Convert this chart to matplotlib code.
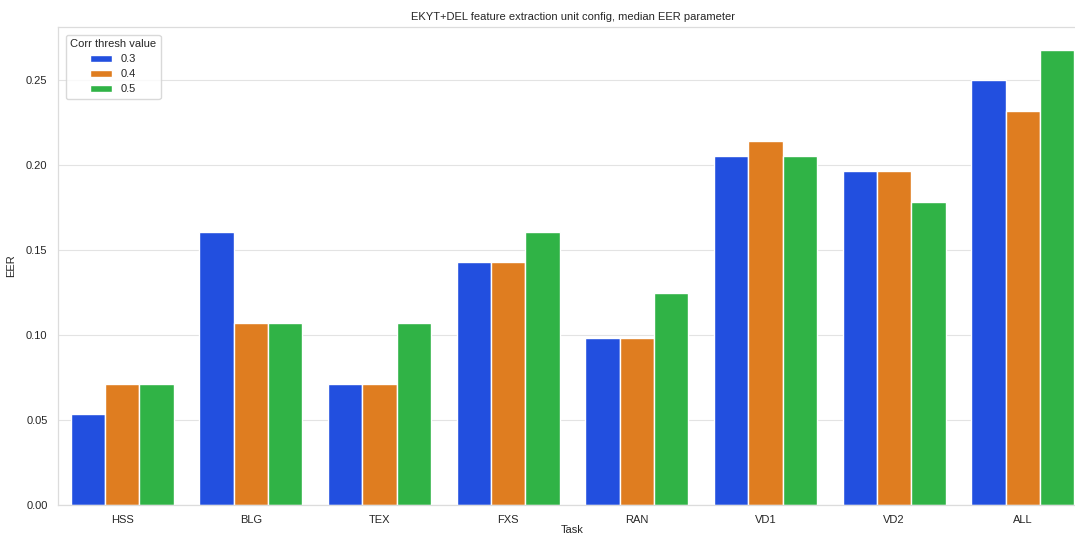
import pandas as pd
import matplotlib
matplotlib.use("Agg")
import matplotlib.pyplot as plt
import seaborn as sns

tasks = ["HSS", "BLG", "TEX", "FXS", "RAN", "VD1", "VD2", "ALL"]
thresholds = ["0.3", "0.4", "0.5"]
eer_03 = [0.0536, 0.1607, 0.0714, 0.1429, 0.0982, 0.2054, 0.1964, 0.2500]
eer_04 = [0.0714, 0.1071, 0.0714, 0.1429, 0.0982, 0.2143, 0.1964, 0.2321]
eer_05 = [0.0714, 0.1071, 0.1071, 0.1607, 0.1250, 0.2054, 0.1786, 0.2679]

rows = []
for th, vals in zip(thresholds, [eer_03, eer_04, eer_05]):
    for t, v in zip(tasks, vals):
        rows.append({"Task": t, "Corr thresh value": th, "EER": v})
df = pd.DataFrame(rows)

sns.set_theme(style="whitegrid", rc={"grid.color": "#e3e3e3", "grid.linewidth": 0.8,
                                     "axes.edgecolor": "#dcdcdc", "axes.linewidth": 0.9})
plt.rcParams['font.family'] = ['Liberation Sans', 'DejaVu Sans']

fig = plt.figure(figsize=(10.75, 5.35), dpi=100)
ax = fig.add_axes([58 / 1075, 30 / 535, 1029 / 1075, 478 / 535])

sns.barplot(data=df, x="Task", y="EER", hue="Corr thresh value",
            palette="bright", ax=ax)

ax.set_title("EKYT+DEL feature extraction unit config, median EER parameter",
             fontsize=8, pad=5)
ax.set_xlabel("Task", fontsize=8, labelpad=0)
ax.set_ylabel("EER", fontsize=8, labelpad=7)
ax.tick_params(axis="x", labelsize=8, pad=1)
ax.tick_params(axis="y", labelsize=8, pad=1.5)
ax.set_yticks([0.0, 0.05, 0.10, 0.15, 0.20, 0.25])
ax.set_yticklabels(["0.00", "0.05", "0.10", "0.15", "0.20", "0.25"])

leg = ax.legend(title="Corr thresh value", loc="upper left",
                fontsize=8, title_fontsize=8,
                bbox_to_anchor=(0.002, 0.995), labelspacing=0.45)
leg.get_frame().set_edgecolor("#d0d0d0")

fig.savefig("out.png", dpi=100)
